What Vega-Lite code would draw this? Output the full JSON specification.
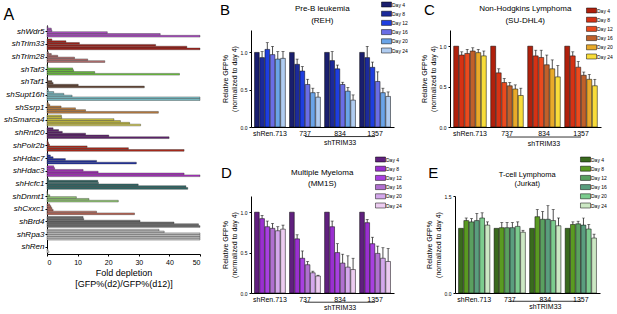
{
"$schema":"https://vega.github.io/schema/vega-lite/v6.json",
"padding":{"left":3,"top":0,"right":0,"bottom":0},
"config":{"font":"Liberation Sans","view":{"stroke":null},
 "axis":{"domainColor":"black","tickColor":"black","labelColor":"black","titleColor":"black","grid":false,"titleFontWeight":"normal","labelFont":"Liberation Sans","titleFont":"Liberation Sans"},
 "title":{"font":"Liberation Sans","color":"black","fontWeight":"normal"},
 "legend":{"labelFont":"Liberation Sans","labelColor":"black"}},
"datasets":{
"A":[
{"gene":"shWdr5","i":0,"v":0.3},{"gene":"shWdr5","i":1,"v":1.4},{"gene":"shWdr5","i":2,"v":1.6},{"gene":"shWdr5","i":3,"v":19.7},{"gene":"shWdr5","i":4,"v":37},{"gene":"shWdr5","i":5,"v":50},
{"gene":"shTrim33","i":0,"v":1.6},{"gene":"shTrim33","i":1,"v":6.2},{"gene":"shTrim33","i":2,"v":10.6},{"gene":"shTrim33","i":3,"v":35.5},{"gene":"shTrim33","i":4,"v":45.7},{"gene":"shTrim33","i":5,"v":50},
{"gene":"shTrim28","i":0,"v":0.5},{"gene":"shTrim28","i":1,"v":1.4},{"gene":"shTrim28","i":2,"v":3.5},{"gene":"shTrim28","i":3,"v":9},{"gene":"shTrim28","i":4,"v":13.3},{"gene":"shTrim28","i":5,"v":18.9},
{"gene":"shTaf3","i":0,"v":0.1},{"gene":"shTaf3","i":1,"v":0.3},{"gene":"shTaf3","i":2,"v":8.4},{"gene":"shTaf3","i":3,"v":8.7},{"gene":"shTaf3","i":4,"v":15.6},{"gene":"shTaf3","i":5,"v":43.3},
{"gene":"shTaf1","i":0,"v":0.1},{"gene":"shTaf1","i":1,"v":0.2},{"gene":"shTaf1","i":2,"v":1.6},{"gene":"shTaf1","i":3,"v":2},{"gene":"shTaf1","i":4,"v":10.2},{"gene":"shTaf1","i":5,"v":31.8},
{"gene":"shSupt16h","i":0,"v":0.5},{"gene":"shSupt16h","i":1,"v":2.2},{"gene":"shSupt16h","i":2,"v":5.5},{"gene":"shSupt16h","i":3,"v":8.2},{"gene":"shSupt16h","i":4,"v":50},{"gene":"shSupt16h","i":5,"v":50},
{"gene":"shSsrp1","i":0,"v":0.4},{"gene":"shSsrp1","i":1,"v":0.9},{"gene":"shSsrp1","i":2,"v":4.6},{"gene":"shSsrp1","i":3,"v":9.3},{"gene":"shSsrp1","i":4,"v":12.6},{"gene":"shSsrp1","i":5,"v":36.4},
{"gene":"shSmarca4","i":0,"v":4.7},{"gene":"shSmarca4","i":1,"v":4.8},{"gene":"shSmarca4","i":2,"v":21.9},{"gene":"shSmarca4","i":3,"v":24},{"gene":"shSmarca4","i":4,"v":27},{"gene":"shSmarca4","i":5,"v":30.6},
{"gene":"shRnf20","i":0,"v":2},{"gene":"shRnf20","i":1,"v":3.8},{"gene":"shRnf20","i":2,"v":5},{"gene":"shRnf20","i":3,"v":12.6},{"gene":"shRnf20","i":4,"v":20.2},{"gene":"shRnf20","i":5,"v":39.9},
{"gene":"shPolr2b","i":0,"v":0.3},{"gene":"shPolr2b","i":1,"v":0.5},{"gene":"shPolr2b","i":2,"v":0.8},{"gene":"shPolr2b","i":3,"v":13.1},{"gene":"shPolr2b","i":4,"v":26.6},{"gene":"shPolr2b","i":5,"v":44.8},
{"gene":"shHdac7","i":0,"v":0.3},{"gene":"shHdac7","i":1,"v":1.1},{"gene":"shHdac7","i":2,"v":2},{"gene":"shHdac7","i":3,"v":6},{"gene":"shHdac7","i":4,"v":16.2},{"gene":"shHdac7","i":5,"v":29.2},
{"gene":"shHdac3","i":0,"v":2.2},{"gene":"shHdac3","i":1,"v":2.5},{"gene":"shHdac3","i":2,"v":11.8},{"gene":"shHdac3","i":3,"v":16.7},{"gene":"shHdac3","i":4,"v":44.8},{"gene":"shHdac3","i":5,"v":50},
{"gene":"shHcfc1","i":0,"v":0.5},{"gene":"shHcfc1","i":1,"v":16.6},{"gene":"shHcfc1","i":2,"v":16.8},{"gene":"shHcfc1","i":3,"v":29.8},{"gene":"shHcfc1","i":4,"v":45.4},{"gene":"shHcfc1","i":5,"v":46},
{"gene":"shDnmt1","i":0,"v":0.1},{"gene":"shDnmt1","i":1,"v":0.2},{"gene":"shDnmt1","i":2,"v":0.9},{"gene":"shDnmt1","i":3,"v":9.6},{"gene":"shDnmt1","i":4,"v":13.7},{"gene":"shDnmt1","i":5,"v":23.3},
{"gene":"shCxxc1","i":0,"v":0.9},{"gene":"shCxxc1","i":1,"v":1.3},{"gene":"shCxxc1","i":2,"v":1.6},{"gene":"shCxxc1","i":3,"v":2},{"gene":"shCxxc1","i":4,"v":16.2},{"gene":"shCxxc1","i":5,"v":28.6},
{"gene":"shBrd4","i":0,"v":11.8},{"gene":"shBrd4","i":1,"v":12},{"gene":"shBrd4","i":2,"v":30.4},{"gene":"shBrd4","i":3,"v":41.5},{"gene":"shBrd4","i":4,"v":49.5},{"gene":"shBrd4","i":5,"v":50},
{"gene":"shRpa3","i":0,"v":36.6},{"gene":"shRpa3","i":1,"v":38.3},{"gene":"shRpa3","i":2,"v":50},{"gene":"shRpa3","i":3,"v":50},{"gene":"shRpa3","i":4,"v":50},{"gene":"shRpa3","i":5,"v":50},
{"gene":"shRen","i":4,"v":0.3},{"gene":"shRen","i":5,"v":0.6}
],
"B":[
{"g":"shRen.713","day":"Day 4","v":1.0},{"g":"shRen.713","day":"Day 8","v":0.93,"hi":1.01},{"g":"shRen.713","day":"Day 12","v":1.04,"hi":1.13},{"g":"shRen.713","day":"Day 16","v":0.97,"hi":1.08},{"g":"shRen.713","day":"Day 20","v":0.91,"hi":1.01},{"g":"shRen.713","day":"Day 24","v":0.92,"hi":1.01},
{"g":"737","day":"Day 4","v":1.0},{"g":"737","day":"Day 8","v":0.84,"hi":0.91},{"g":"737","day":"Day 12","v":0.75,"hi":0.81},{"g":"737","day":"Day 16","v":0.57,"hi":0.64},{"g":"737","day":"Day 20","v":0.46,"hi":0.52},{"g":"737","day":"Day 24","v":0.40,"hi":0.46},
{"g":"834","day":"Day 4","v":1.0},{"g":"834","day":"Day 8","v":0.89,"hi":1.01},{"g":"834","day":"Day 12","v":0.78,"hi":0.83},{"g":"834","day":"Day 16","v":0.57,"hi":0.60},{"g":"834","day":"Day 20","v":0.48,"hi":0.53},{"g":"834","day":"Day 24","v":0.36,"hi":0.43},
{"g":"1357","day":"Day 4","v":1.0},{"g":"1357","day":"Day 8","v":0.93,"hi":1.08},{"g":"1357","day":"Day 12","v":0.80,"hi":0.87},{"g":"1357","day":"Day 16","v":0.61,"hi":0.74},{"g":"1357","day":"Day 20","v":0.46,"hi":0.52},{"g":"1357","day":"Day 24","v":0.41,"hi":0.47}
],
"C":[
{"g":"shRen.713","day":"Day 4","v":1.0},{"g":"shRen.713","day":"Day 8","v":0.89,"hi":0.93},{"g":"shRen.713","day":"Day 12","v":0.91,"hi":0.96},{"g":"shRen.713","day":"Day 16","v":0.94,"hi":0.98},{"g":"shRen.713","day":"Day 20","v":0.92,"hi":0.96},{"g":"shRen.713","day":"Day 24","v":0.88,"hi":0.94},
{"g":"737","day":"Day 4","v":1.0},{"g":"737","day":"Day 8","v":0.67,"hi":0.72},{"g":"737","day":"Day 12","v":0.55,"hi":0.60},{"g":"737","day":"Day 16","v":0.51,"hi":0.55},{"g":"737","day":"Day 20","v":0.47,"hi":0.52},{"g":"737","day":"Day 24","v":0.39,"hi":0.48},
{"g":"834","day":"Day 4","v":1.0},{"g":"834","day":"Day 8","v":0.88,"hi":0.95},{"g":"834","day":"Day 12","v":0.86,"hi":0.95},{"g":"834","day":"Day 16","v":0.77,"hi":0.89},{"g":"834","day":"Day 20","v":0.72,"hi":0.83},{"g":"834","day":"Day 24","v":0.62,"hi":0.76},
{"g":"1357","day":"Day 4","v":1.0},{"g":"1357","day":"Day 8","v":0.88,"hi":0.93},{"g":"1357","day":"Day 12","v":0.74,"hi":0.81},{"g":"1357","day":"Day 16","v":0.64,"hi":0.68},{"g":"1357","day":"Day 20","v":0.59,"hi":0.65},{"g":"1357","day":"Day 24","v":0.51,"hi":0.59}
],
"D":[
{"g":"shRen.713","day":"Day 4","v":1.0},{"g":"shRen.713","day":"Day 8","v":0.92,"hi":0.96},{"g":"shRen.713","day":"Day 12","v":0.82,"hi":0.89},{"g":"shRen.713","day":"Day 16","v":0.80,"hi":0.86},{"g":"shRen.713","day":"Day 20","v":0.77,"hi":0.82},{"g":"shRen.713","day":"Day 24","v":0.79,"hi":0.84},
{"g":"737","day":"Day 4","v":1.0},{"g":"737","day":"Day 8","v":0.67,"hi":0.72},{"g":"737","day":"Day 12","v":0.43,"hi":0.52},{"g":"737","day":"Day 16","v":0.35,"hi":0.39},{"g":"737","day":"Day 20","v":0.25,"hi":0.27},{"g":"737","day":"Day 24","v":0.21,"hi":0.22},
{"g":"834","day":"Day 4","v":1.0},{"g":"834","day":"Day 8","v":0.82,"hi":0.89},{"g":"834","day":"Day 12","v":0.50,"hi":0.61},{"g":"834","day":"Day 16","v":0.37,"hi":0.48},{"g":"834","day":"Day 20","v":0.32,"hi":0.46},{"g":"834","day":"Day 24","v":0.29,"hi":0.43},
{"g":"1357","day":"Day 4","v":1.0},{"g":"1357","day":"Day 8","v":0.87,"hi":0.91},{"g":"1357","day":"Day 12","v":0.61,"hi":0.69},{"g":"1357","day":"Day 16","v":0.49,"hi":0.58},{"g":"1357","day":"Day 20","v":0.43,"hi":0.56},{"g":"1357","day":"Day 24","v":0.39,"hi":0.55}
],
"E":[
{"g":"shRen.713","day":"Day 4","v":1.0},{"g":"shRen.713","day":"Day 8","v":1.12,"hi":1.16},{"g":"shRen.713","day":"Day 12","v":1.10,"hi":1.15},{"g":"shRen.713","day":"Day 16","v":1.12,"hi":1.23},{"g":"shRen.713","day":"Day 20","v":1.16,"hi":1.24},{"g":"shRen.713","day":"Day 24","v":1.05,"hi":1.10},
{"g":"737","day":"Day 4","v":1.0},{"g":"737","day":"Day 8","v":1.01,"hi":1.09},{"g":"737","day":"Day 12","v":1.01,"hi":1.09},{"g":"737","day":"Day 16","v":1.01,"hi":1.09},{"g":"737","day":"Day 20","v":1.03,"hi":1.10},{"g":"737","day":"Day 24","v":0.94,"hi":0.97},
{"g":"834","day":"Day 4","v":1.0},{"g":"834","day":"Day 8","v":1.18,"hi":1.29},{"g":"834","day":"Day 12","v":1.14,"hi":1.26},{"g":"834","day":"Day 16","v":1.14,"hi":1.35},{"g":"834","day":"Day 20","v":1.12,"hi":1.29},{"g":"834","day":"Day 24","v":1.04,"hi":1.16},
{"g":"1357","day":"Day 4","v":1.0},{"g":"1357","day":"Day 8","v":1.06,"hi":1.10},{"g":"1357","day":"Day 12","v":1.07,"hi":1.11},{"g":"1357","day":"Day 16","v":1.05,"hi":1.16},{"g":"1357","day":"Day 20","v":0.99,"hi":1.06},{"g":"1357","day":"Day 24","v":0.85,"hi":0.91}
],
"ann":[{"a":"737","b":"1357","m":"834","t":"shTRIM33"}]
},
"resolve":{"scale":{"color":"independent","x":"independent","y":"independent","xOffset":"independent","yOffset":"independent"},"legend":{"color":"independent"}},
"spacing":18,
"hconcat":[
{
 "width":153,"height":224,
 "data":{"name":"A"},
 "title":{"text":"A","anchor":"start","frame":"bounds","fontSize":16,"offset":3},
 "mark":{"type":"bar","stroke":"#333333","strokeWidth":0.4},
 "encoding":{
  "y":{"field":"gene","type":"nominal","sort":null,
   "scale":{"domain":["shWdr5","shTrim33","shTrim28","shTaf3","shTaf1","shSupt16h","shSsrp1","shSmarca4","shRnf20","shPolr2b","shHdac7","shHdac3","shHcfc1","shDnmt1","shCxxc1","shBrd4","shRpa3","shRen"],"range":[-5,224],"paddingInner":0.15,"paddingOuter":0.1},
   "axis":{"title":null,"labelFontStyle":"italic","labelFontSize":8,"tickSize":2,"labelPadding":1}},
  "yOffset":{"field":"i","type":"ordinal","scale":{"domain":[0,1,2,3,4,5],"paddingInner":0.05}},
  "x":{"field":"v","type":"quantitative","scale":{"domain":[0,50],"nice":false},
   "axis":{"values":[0,10,20,30,40,50],"title":["Fold depletion","[GFP%(d2)/GFP%(d12)]"],"titleFontSize":9,"labelFontSize":7,"tickSize":2,"titlePadding":3}},
  "color":{"field":"gene","type":"nominal","legend":null,
   "scale":{"domain":["shWdr5","shTrim33","shTrim28","shTaf3","shTaf1","shSupt16h","shSsrp1","shSmarca4","shRnf20","shPolr2b","shHdac7","shHdac3","shHcfc1","shDnmt1","shCxxc1","shBrd4","shRpa3","shRen"],
    "range":["#b050c8","#a82018","#b87070","#70c840","#6a4a38","#80c8d0","#c08040","#d0c840","#602070","#b02818","#2030a8","#b030c8","#306a68","#98d078","#c06858","#707070","#c8c8c8","#ffffff"]}}
 }
},
{
 "spacing":8,
 "resolve":{"scale":{"color":"independent","x":"independent","y":"independent","xOffset":"independent"},"legend":{"color":"independent"}},
 "vconcat":[
 {"spacing":12,
  "resolve":{"scale":{"color":"independent","x":"independent","y":"independent","xOffset":"independent"},"legend":{"color":"independent"}},
  "hconcat":[
  {
   "width":143,"height":97,
   "data":{"name":"B"},
   "layer":[
    {"mark":{"type":"bar","stroke":"black","strokeWidth":0.5},
     "encoding":{
      "x":{"field":"g","type":"nominal","sort":null,"scale":{"domain":["shRen.713","737","834","1357"],"paddingInner":0.12,"paddingOuter":0.1},"axis":{"title":null,"labelAngle":0,"labelFontSize":7,"ticks":false,"labelPadding":2}},
      "xOffset":{"field":"day","type":"nominal","sort":null,"scale":{"domain":["Day 4","Day 8","Day 12","Day 16","Day 20","Day 24"],"paddingInner":0.1}},
      "y":{"field":"v","type":"quantitative","scale":{"domain":[0,1.3],"nice":false},"axis":{"values":[0,0.5,1],"format":".1f","title":["Relative GFP%","(normalized to day 4)"],"titleFontSize":7,"labelFontSize":5,"tickSize":2,"titlePadding":3}},
      "color":{"field":"day","type":"nominal","sort":null,"scale":{"domain":["Day 4","Day 8","Day 12","Day 16","Day 20","Day 24"],"range":["#1a1f6e","#1c2a9a","#1e3ee0","#6a6ee6","#6aa4e8","#b0ccf0"]},
       "legend":{"title":null,"orient":"none","legendX":131,"legendY":-30,"symbolType":"M-1.2,-0.6H1.2V0.6H-1.2Z","symbolSize":70,"symbolStrokeColor":"black","symbolStrokeWidth":0.5,"labelFontSize":5,"labelOffset":1,"rowPadding":0.2}}
     }},
    {"mark":{"type":"rule","color":"black","strokeWidth":0.7},
     "encoding":{"x":{"field":"g","type":"nominal","sort":null},"xOffset":{"field":"day","type":"nominal","sort":null},"y":{"field":"v","type":"quantitative"},"y2":{"field":"hi"}}},
    {"mark":{"type":"tick","color":"black","thickness":0.7,"size":3},
     "encoding":{"x":{"field":"g","type":"nominal","sort":null},"xOffset":{"field":"day","type":"nominal","sort":null},"y":{"field":"hi","type":"quantitative"}}},
    {"data":{"name":"ann"},"mark":{"type":"rule","color":"black","strokeWidth":0.8},
     "encoding":{"x":{"field":"a","type":"nominal","sort":null},"x2":{"field":"b"},"y":{"datum":-0.128}}},
    {"data":{"name":"ann"},"mark":{"type":"text","fontSize":7,"baseline":"top"},
     "encoding":{"x":{"field":"m","type":"nominal","sort":null},"y":{"datum":-0.16},"text":{"field":"t"}}},
    {"data":{"values":[{"a":"shRen.713","t":"B"}]},"mark":{"type":"text","fontSize":15,"align":"left","baseline":"middle","dx":-50,"dy":-20},
     "encoding":{"x":{"field":"a","type":"nominal","sort":null},"y":{"datum":1.3},"text":{"field":"t"}}},
    {"data":{"values":[{"a":"737"}]},"mark":{"type":"text","fontSize":8,"lineHeight":12,"align":"center","baseline":"top","dy":-25,"text":["Pre-B leukemia","(REH)"]},
     "encoding":{"x":{"field":"a","type":"nominal","sort":null,"bandPosition":1.06},"y":{"datum":1.3}}}
   ]
  },
  {
   "width":151,"height":97,
   "data":{"name":"C"},
   "layer":[
    {"mark":{"type":"bar","stroke":"black","strokeWidth":0.5},
     "encoding":{
      "x":{"field":"g","type":"nominal","sort":null,"scale":{"domain":["shRen.713","737","834","1357"],"paddingInner":0.12,"paddingOuter":0.1},"axis":{"title":null,"labelAngle":0,"labelFontSize":7,"ticks":false,"labelPadding":2}},
      "xOffset":{"field":"day","type":"nominal","sort":null,"scale":{"domain":["Day 4","Day 8","Day 12","Day 16","Day 20","Day 24"],"paddingInner":0.1}},
      "y":{"field":"v","type":"quantitative","scale":{"domain":[0,1.2],"nice":false},"axis":{"values":[0,0.5,1],"format":".1f","title":["Relative GFP%","(normalized to day 4)"],"titleFontSize":7,"labelFontSize":5,"tickSize":2,"titlePadding":3}},
      "color":{"field":"day","type":"nominal","sort":null,"scale":{"domain":["Day 4","Day 8","Day 12","Day 16","Day 20","Day 24"],"range":["#b0200c","#d63214","#ea4a1e","#c0602a","#e8aa2a","#f8dc3a"]},
       "legend":{"title":null,"orient":"none","legendX":137,"legendY":-24,"symbolType":"M-1.2,-0.6H1.2V0.6H-1.2Z","symbolSize":70,"symbolStrokeColor":"black","symbolStrokeWidth":0.5,"labelFontSize":5,"labelOffset":1,"rowPadding":0.2}}
     }},
    {"mark":{"type":"rule","color":"black","strokeWidth":0.7},
     "encoding":{"x":{"field":"g","type":"nominal","sort":null},"xOffset":{"field":"day","type":"nominal","sort":null},"y":{"field":"v","type":"quantitative"},"y2":{"field":"hi"}}},
    {"mark":{"type":"tick","color":"black","thickness":0.7,"size":3},
     "encoding":{"x":{"field":"g","type":"nominal","sort":null},"xOffset":{"field":"day","type":"nominal","sort":null},"y":{"field":"hi","type":"quantitative"}}},
    {"data":{"name":"ann"},"mark":{"type":"rule","color":"black","strokeWidth":0.8},
     "encoding":{"x":{"field":"a","type":"nominal","sort":null},"x2":{"field":"b"},"y":{"datum":-0.124}}},
    {"data":{"name":"ann"},"mark":{"type":"text","fontSize":7,"baseline":"top"},
     "encoding":{"x":{"field":"m","type":"nominal","sort":null},"y":{"datum":-0.155},"text":{"field":"t"}}},
    {"data":{"values":[{"a":"shRen.713","t":"C"}]},"mark":{"type":"text","fontSize":15,"align":"left","baseline":"middle","dx":-46,"dy":-20},
     "encoding":{"x":{"field":"a","type":"nominal","sort":null},"y":{"datum":1.2},"text":{"field":"t"}}},
    {"data":{"values":[{"a":"737"}]},"mark":{"type":"text","fontSize":8,"lineHeight":12,"align":"center","baseline":"top","dy":-25,"text":["Non-Hodgkins Lymphoma","(SU-DHL4)"]},
     "encoding":{"x":{"field":"a","type":"nominal","sort":null,"bandPosition":1.06},"y":{"datum":1.2}}}
   ]
  }
 ]},
 {"spacing":23,
  "resolve":{"scale":{"color":"independent","x":"independent","y":"independent","xOffset":"independent"},"legend":{"color":"independent"}},
  "hconcat":[
  {
   "width":143,"height":97,
   "data":{"name":"D"},
   "layer":[
    {"mark":{"type":"bar","stroke":"black","strokeWidth":0.5},
     "encoding":{
      "x":{"field":"g","type":"nominal","sort":null,"scale":{"domain":["shRen.713","737","834","1357"],"paddingInner":0.12,"paddingOuter":0.1},"axis":{"title":null,"labelAngle":0,"labelFontSize":7,"ticks":false,"labelPadding":2}},
      "xOffset":{"field":"day","type":"nominal","sort":null,"scale":{"domain":["Day 4","Day 8","Day 12","Day 16","Day 20","Day 24"],"paddingInner":0.1}},
      "y":{"field":"v","type":"quantitative","scale":{"domain":[0,1.2],"nice":false},"axis":{"values":[0,0.5,1],"format":".1f","title":["Relative GFP%","(normalized to day 4)"],"titleFontSize":7,"labelFontSize":5,"tickSize":2,"titlePadding":3}},
      "color":{"field":"day","type":"nominal","sort":null,"scale":{"domain":["Day 4","Day 8","Day 12","Day 16","Day 20","Day 24"],"range":["#60207e","#9a30d0","#a840e0","#b070d0","#d4a8ec","#ecccf0"]},
       "legend":{"title":null,"orient":"none","legendX":125,"legendY":-41,"symbolType":"M-1.2,-0.6H1.2V0.6H-1.2Z","symbolSize":70,"symbolStrokeColor":"black","symbolStrokeWidth":0.5,"labelFontSize":5,"labelOffset":1,"rowPadding":0.2}}
     }},
    {"mark":{"type":"rule","color":"black","strokeWidth":0.7},
     "encoding":{"x":{"field":"g","type":"nominal","sort":null},"xOffset":{"field":"day","type":"nominal","sort":null},"y":{"field":"v","type":"quantitative"},"y2":{"field":"hi"}}},
    {"mark":{"type":"tick","color":"black","thickness":0.7,"size":3},
     "encoding":{"x":{"field":"g","type":"nominal","sort":null},"xOffset":{"field":"day","type":"nominal","sort":null},"y":{"field":"hi","type":"quantitative"}}},
    {"data":{"name":"ann"},"mark":{"type":"rule","color":"black","strokeWidth":0.8},
     "encoding":{"x":{"field":"a","type":"nominal","sort":null},"x2":{"field":"b"},"y":{"datum":-0.114}}},
    {"data":{"name":"ann"},"mark":{"type":"text","fontSize":7,"baseline":"top"},
     "encoding":{"x":{"field":"m","type":"nominal","sort":null},"y":{"datum":-0.135},"text":{"field":"t"}}},
    {"data":{"values":[{"a":"shRen.713","t":"D"}]},"mark":{"type":"text","fontSize":15,"align":"left","baseline":"middle","dx":-49,"dy":-23},
     "encoding":{"x":{"field":"a","type":"nominal","sort":null},"y":{"datum":1.2},"text":{"field":"t"}}},
    {"data":{"values":[{"a":"737"}]},"mark":{"type":"text","fontSize":8,"lineHeight":11,"align":"center","baseline":"top","dy":-27,"text":["Multiple Myeloma","(MM1S)"]},
     "encoding":{"x":{"field":"a","type":"nominal","sort":null,"bandPosition":1.06},"y":{"datum":1.2}}}
   ]
  },
  {
   "width":145,"height":97,
   "data":{"name":"E"},
   "layer":[
    {"mark":{"type":"bar","stroke":"black","strokeWidth":0.5},
     "encoding":{
      "x":{"field":"g","type":"nominal","sort":null,"scale":{"domain":["shRen.713","737","834","1357"],"paddingInner":0.12,"paddingOuter":0.1},"axis":{"title":null,"labelAngle":0,"labelFontSize":7,"ticks":false,"labelPadding":2}},
      "xOffset":{"field":"day","type":"nominal","sort":null,"scale":{"domain":["Day 4","Day 8","Day 12","Day 16","Day 20","Day 24"],"paddingInner":0.1}},
      "y":{"field":"v","type":"quantitative","scale":{"domain":[0,1.5],"nice":false},"axis":{"values":[0,0.5,1,1.5],"format":".1f","title":["Relative GFP%","(normalized to day 4)"],"titleFontSize":7,"labelFontSize":5,"tickSize":2,"titlePadding":3}},
      "color":{"field":"day","type":"nominal","sort":null,"scale":{"domain":["Day 4","Day 8","Day 12","Day 16","Day 20","Day 24"],"range":["#3a6a1e","#5a9a22","#5aa060","#5a9e7e","#7ccc8e","#cce8c4"]},
       "legend":{"title":null,"orient":"none","legendX":126,"legendY":-41,"symbolType":"M-1.2,-0.6H1.2V0.6H-1.2Z","symbolSize":70,"symbolStrokeColor":"black","symbolStrokeWidth":0.5,"labelFontSize":5,"labelOffset":1,"rowPadding":0.2}}
     }},
    {"mark":{"type":"rule","color":"black","strokeWidth":0.7},
     "encoding":{"x":{"field":"g","type":"nominal","sort":null},"xOffset":{"field":"day","type":"nominal","sort":null},"y":{"field":"v","type":"quantitative"},"y2":{"field":"hi"}}},
    {"mark":{"type":"tick","color":"black","thickness":0.7,"size":3},
     "encoding":{"x":{"field":"g","type":"nominal","sort":null},"xOffset":{"field":"day","type":"nominal","sort":null},"y":{"field":"hi","type":"quantitative"}}},
    {"data":{"name":"ann"},"mark":{"type":"rule","color":"black","strokeWidth":0.8},
     "encoding":{"x":{"field":"a","type":"nominal","sort":null},"x2":{"field":"b"},"y":{"datum":-0.128}}},
    {"data":{"name":"ann"},"mark":{"type":"text","fontSize":7,"baseline":"top"},
     "encoding":{"x":{"field":"m","type":"nominal","sort":null},"y":{"datum":-0.16},"text":{"field":"t"}}},
    {"data":{"values":[{"a":"shRen.713","t":"E"}]},"mark":{"type":"text","fontSize":15,"align":"left","baseline":"middle","dx":-46,"dy":-23},
     "encoding":{"x":{"field":"a","type":"nominal","sort":null},"y":{"datum":1.5},"text":{"field":"t"}}},
    {"data":{"values":[{"a":"737"}]},"mark":{"type":"text","fontSize":7.5,"lineHeight":9,"align":"center","baseline":"top","dy":-25,"text":["T-cell Lymphoma","(Jurkat)"]},
     "encoding":{"x":{"field":"a","type":"nominal","sort":null,"bandPosition":1.06},"y":{"datum":1.5}}}
   ]
  }
 ]}
 ]
}
]
}
